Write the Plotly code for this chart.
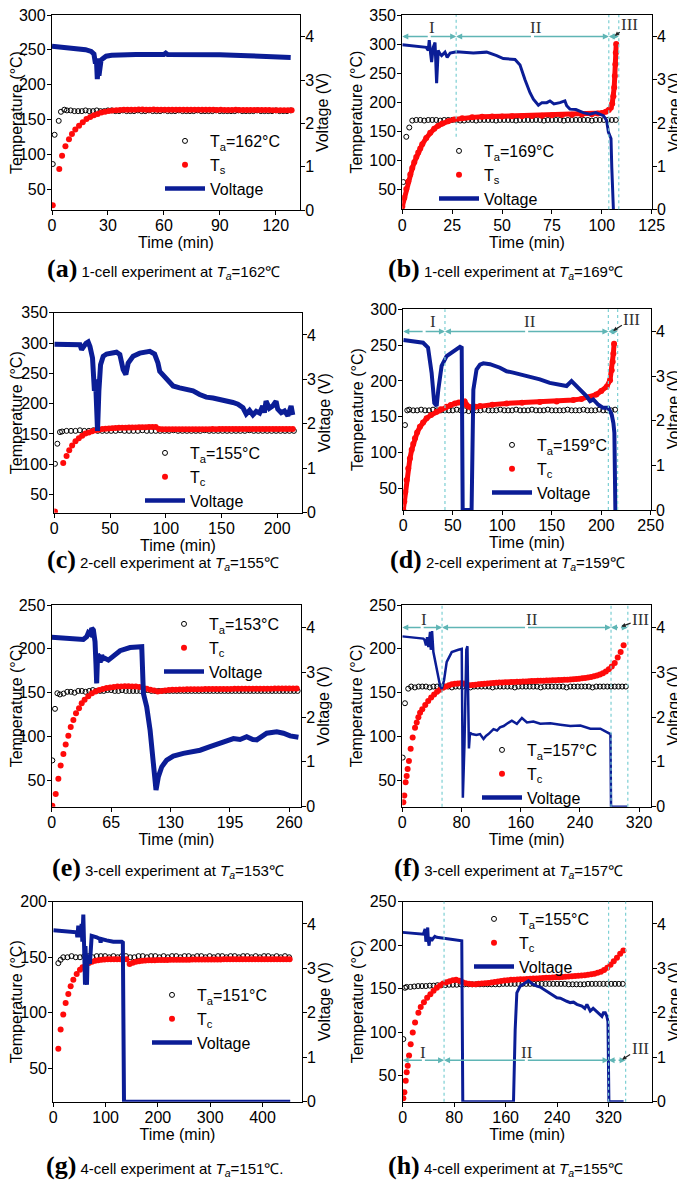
import plotly.graph_objects as go

# ======================= DATA =======================
# ---- (a) 1-cell, Ta=162 ----
ta_a_early = [(0.4, 86), (1.4, 128), (3.6, 148), (4.8, 161), (6.6, 164)]
ta_a_start, ta_a_step = 8, 2
ta_a = [163,163,162,162,162,163,162,162,163,162,
        162,163,163,162,162,163,162,162,162,163,
        162,162,163,162,162,162,163,162,162,162,
        163,162,162,162,162,163,162,162,162,162,
        163,162,162,162,162,162,163,162,162,162,
        162,163,162,162,162,162,163,162,162,162,
        163]
ts_a_early = [(0.4, 27), (3.9, 79), (5.4, 98), (7.2, 111.5), (9.1, 121.6), (10.7, 129)]
ts_a_start, ts_a_step = 12.5, 2
ts_a = [135.5,141,146,150.5,153.5,156,158,160,161,162,
        162.8,163.3,163.6,163.8,164,
        164,164,164.2,164.2,164,164,164.2,164,164,164,
        164,164,163.8,164,164,163.8,164,163.8,163.8,164,
        163.8,163.8,163.8,163.6,163.8,163.6,163.6,163.6,163.8,163.6,
        163.6,163.6,163.5,163.5,163.6,163.5,163.5,163.5,163.4,163.4,
        163.4,163.4,163.4,163.3]
volt_a = [(0,3.78),(10,3.75),(18,3.70),(21,3.66),(22.5,3.6),(23.3,3.38),(23.8,3.5),(24.3,3.02),
          (24.7,3.3),(25.2,3.1),(25.7,3.4),(26.3,3.46),(27.5,3.5),(29,3.55),(32,3.57),(36,3.58),
          (45,3.59),(60,3.59),(61,3.62),(62,3.59),(75,3.59),(90,3.58),(105,3.56),(120,3.54),(128,3.52)]

# ---- (b) 1-cell, Ta=169 ----
ta_b_early = [(0.5, 62), (2, 140), (3.5, 156)]
ta_b_start, ta_b_step = 5, 2
ta_b = [168,169,169,168,169,169,169,168,169,169,
        169,169,168,168,169,169,168,169,169,169,
        169,168,169,169,169,169,168,169,169,169,
        169,169,169,168,169,169,169,169,168,169,
        169,169,169,169,169,168,169,169,169,169,
        169,169]
ts_b = [(0,20),(1,35),(2,50),(3,63),(4,75),(5,86),(6,96),(7,105),(8,113),(9,120),(10,127),
        (12,138),(14,147),(16,154),(18,159),(20,163),(23,167),(26,170),(30,172),(35,173.5),
        (40,174.5),(45,175),(50,175),(55,175.5),(60,175.5),(65,176),(70,176.5),(75,177),
        (80,177.5),(85,178),(90,178.5),(95,179),(98,180),(100,181),(102,183),(103.5,186),
        (104.5,190),(105.2,197),(105.8,210),(106.2,225),(106.5,245),(106.8,265),(107,285),(107.2,300)]
volt_b = [(0,3.81),(12,3.75),(13,3.68),(13.5,3.92),(14.2,3.6),(14.7,3.41),(15.5,3.75),(16.4,3.86),
          (17.2,2.92),(18,3.68),(18.9,3.6),(19.7,3.56),(21.4,3.64),(22.5,3.52),(24,3.62),(25.6,3.64),
          (27.2,3.65),(35.6,3.62),(42.3,3.64),(47.3,3.56),(50.6,3.49),(56.5,3.47),(59,3.34),(61.5,3.0),
          (64,2.70),(65.7,2.55),(68.2,2.41),(70,2.47),(72.4,2.47),(74,2.51),(76,2.44),(79,2.47),
          (81.5,2.51),(82.4,2.4),(84,2.32),(87,2.31),(90.7,2.24),(94,2.2),(97,2.24),(100.8,2.17),
          (102.4,2.06),(103.3,1.79),(104.1,1.72),(104.6,1.64),(105,0.96),(105.8,0)]

# ---- (c) 2-cell, Ta=155 ----
ta_c_early = [(0.6, 100.7), (2.7, 133.8), (5.1, 153)]
ta_c_start, ta_c_step = 7, 4
ta_c = [154,155,155,155,156,155,155,156,155,155,
        155,155,155,156,155,155,155,155,156,155,
        155,155,155,155,155,156,155,155,155,155,
        155,155,156,155,155,155,155,155,155,155,
        155,155,156,155,155,155,155,155,155,155,
        155,155,155]
tc_c_early = [(0.6, 22), (8, 102), (11, 113.4), (13.4, 123)]
tc_c_start, tc_c_step = 16, 3
tc_c = [131,138,143,147,150.5,152.5,154.5,156,157,158,
        158.5,159,159.5,159.7,160,160.2,160.3,160.5,160.5,160.6,
        160.8,161,161,161.2,161.3,161.5,158,157.5,157.5,157.5,
        157.5,157.6,157.5,157.7,157.6,157.7,157.7,157.8,157.7,157.8,
        157.8,157.8,157.9,157.8,157.9,157.9,157.9,158,157.9,158,
        158,158,158,158,158.1,158,158.1,158.1,158.1,158.1,
        158.1,158.2,158.1,158.2,158.2,158.2,158.2]
volt_c = [(0,3.79),(23,3.78),(24.5,3.67),(26,3.74),(28.4,3.81),(30.4,3.84),(32,3.74),(34.3,3.48),
          (36,2.74),(37,3.0),(38.8,1.84),(40,2.74),(41.5,3.33),(43.9,3.52),(46.9,3.57),(55.8,3.61),
          (58.8,3.56),(61.8,3.22),(64.2,3.11),(66.3,3.37),(70.7,3.52),(76.7,3.59),(85.7,3.63),(90,3.57),
          (93,3.37),(94.6,3.18),(100.6,3.0),(106.6,2.85),(112.5,2.81),(118.5,2.77),(124.5,2.74),
          (130.4,2.66),(136.4,2.6),(142.4,2.58),(148.4,2.55),(154.3,2.53),(160.3,2.48),(164.8,2.44),
          (169.3,2.36),(172.2,2.22),(175.2,2.30),(178.2,2.2),(181.2,2.28),(184.2,2.24),(187,2.4),
          (188.5,2.25),(190,2.51),(193,2.35),(196,2.4),(199,2.51),(200.5,2.33),(203.6,2.25),
          (206.6,2.29),(209.6,2.18),(212.5,2.4),(214,2.2)]

# ---- (d) 2-cell, Ta=159 ----
ta_d_early = [(1.7, 138.5), (4, 159)]
ta_d_start, ta_d_step = 6, 4
ta_d = [160,159,159,160,159,159,160,159,159,159,
        159,159,160,159,159,158,159,159,159,160,
        159,159,159,160,159,159,159,160,159,159,
        159,160,159,159,159,160,159,159,159,159,
        160,159,159,159,160,159,159,159,160,159,
        159,159,160]
tc_d = [(0,20),(1,32),(2,45),(3.4,62),(5,78),(6.7,92),(8.5,104),(10,112),(11.8,120),(14,128),
        (16.8,136),(20,142),(23.6,148),(28,152.5),(33.7,157),(38,160.5),(43.8,164),(48,166.5),
        (52.2,168.7),(56,170),(60.6,171),(62,171.5),(64,166.4),(66,164),(69,163),(73,164),
        (77.5,165),(90,167),(104.4,168.7),(120,169.5),(138,170.5),(155,171.5),(171.8,173.5),
        (180,175),(188.7,177.5),(195,181),(200,186),(205.5,192),(208.9,201),(210.6,215),
        (211.6,227),(212.3,238.5),(213,252)]
volt_d = [(0,3.81),(20,3.75),(25,3.64),(28.6,3.08),(31.3,2.4),(33.7,2.33),(35.4,2.7),(38.7,3.23),
          (43.8,3.45),(50.5,3.56),(57.3,3.66),(59,3.64),(60,0),(69,0),(70.8,2.7),(74,3.15),
          (77.5,3.26),(80.9,3.29),(87.6,3.27),(97.7,3.19),(104.4,3.11),(111,3.08),(118,3.04),
          (124.7,3.0),(131.4,2.97),(138,2.93),(148,2.85),(158.4,2.81),(165,2.78),(170,2.89),
          (173.5,2.81),(178.6,2.7),(185.3,2.55),(188.7,2.44),(192,2.48),(197,2.36),(202,2.29),
          (207.2,2.29),(210.6,2.14),(212.3,1.95),(213.3,1.73),(214.3,0)]

# ---- (e) 3-cell, Ta=153 ----
ta_e_early = [(0.7, 72.8), (3.6, 131.6), (6.2, 149.4)]
ta_e_start, ta_e_step = 9, 4
ta_e = [148,149,151,151,150,152,152,151,152,153,
        152,152,152,153,153,152,152,153,152,152,
        152,152,152,152,153,152,152,152,152,152,
        152,152,152,152,152,152,152,152,152,152,
        152,152,152,152,152,152,152,152,152,152,
        152,152,152,152,152,152,152,152,152,152,
        152,152,152,152,152,152]
tc_e_early = [(0.7,21),(4.4,34.4),(7.3,52),(9.8,67),(12.8,80),(15.3,91),(18.2,100.8),(20.8,111),
              (23.7,119),(26.6,126.7),(29.9,132.3),(32.8,138)]
tc_e_start, tc_e_step = 36, 4
tc_e = [142,146,149.4,151.5,153,154.3,155.3,156,156.5,157,
        157.2,157.3,157.3,157.2,157,156.5,155.5,154.5,153.5,152.5,
        151.5,151.8,152.5,153,153.3,153.5,153.6,153.7,153.8,153.9,
        154,154,154,154.1,154.1,154.2,154.2,154.2,154.3,154.3,
        154.3,154.4,154.4,154.4,154.5,154.5,154.5,154.5,154.6,154.6,
        154.6,154.6,154.7,154.7,154.7,154.7,154.7,154.8,154.8]
volt_e = [(0,3.78),(34.6,3.73),(38.3,3.79),(40.1,3.88),(42,3.85),(43.8,3.98),(45.6,3.94),(47.4,3.68),
          (48.4,3.2),(49.2,2.75),(50.2,3.4),(51.8,3.35),(53,3.22),(54.7,3.38),(56.5,3.3),(58.4,3.31),
          (62,3.27),(67.5,3.36),(74.8,3.48),(85.7,3.55),(96.6,3.57),(98.5,3.57),(100.3,2.53),
          (103.9,2.23),(107.6,1.71),(111.2,0.89),(114.1,0.37),(116.7,0.67),(120.4,0.89),(125.8,1.04),
          (133,1.13),(144,1.19),(155,1.23),(162.3,1.26),(173.2,1.34),(184.2,1.41),(191.5,1.45),
          (198.8,1.52),(206,1.5),(213.3,1.56),(220,1.5),(224.3,1.49),(235.2,1.64),(246.2,1.67),
          (253.5,1.64),(260.8,1.58),(269.9,1.55)]

# ---- (f) 3-cell, Ta=157 ----
ta_f_early = [(0.5, 76), (3.6, 138), (8, 154.6)]
ta_f_start, ta_f_step = 12, 5
ta_f = [157,156,157,157,157,156,157,157,157,157,
        157,156,157,157,157,157,156,157,157,157,
        157,157,156,157,157,157,157,157,156,157,
        157,157,157,157,157,156,157,157,157,157,
        157,157,156,157,157,157,157,157,157,156,
        157,157,157,157,157,157,157,157,157]
tc_f_early = [(1.4,25),(2.7,32.7),(4.5,48),(5.9,55),(7.2,63),(9,72),(11.3,86),(14,99),(17.2,110),
              (19.5,116),(21.7,122),(24,127)]
tc_f_start, tc_f_step = 27, 4
tc_f = [131,136,140.5,144.5,148,151,153.5,155.5,157,158.5,
        159.5,160.2,160.6,160.8,160.5,158.5,158.5,158.8,159.2,159.6,
        160,160.3,160.6,160.9,161.1,161.3,161.5,161.7,161.9,162,
        162.2,162.3,162.5,162.6,162.8,162.9,163,163.2,163.3,163.5,
        163.6,163.7,163.8,164,164.1,164.2,164.4,164.5,164.7,164.9,
        165.1,165.4,165.7,166,166.4,166.9,167.4,168,168.7,169.5,
        170.8,172.3,174.2,176.6,180,184,190,196.5,204]
volt_f = [(0,3.80),(28.4,3.75),(30,3.72),(32,3.6),(33.5,3.78),(35.2,3.56),(37.5,3.9),(38.5,3.5),
          (39.5,3.6),(40.2,3.92),(42,3.45),(46.5,3.04),(51,2.70),(53.3,2.63),(56.4,2.82),(60,3.23),
          (66.8,3.45),(75.8,3.5),(80.3,3.52),(81.8,0.2),(84,1.4),(86.5,3.5),(88,3.58),(90,1.3),
          (91.5,1.65),(94,1.62),(100,1.6),(105,1.62),(109.7,1.51),(113,1.58),(116.4,1.62),
          (123.2,1.73),(128,1.7),(132,1.77),(137,1.8),(141.3,1.85),(148,1.92),(154.8,1.85),
          (161.6,1.98),(168.4,1.88),(177,1.9),(186.4,1.85),(200,1.86),(213.5,1.83),(227,1.8),
          (240.6,1.81),(254,1.74),(267.6,1.74),(276.7,1.66),(281.2,1.62),(282,0),(304,0)]

# ---- (g) 4-cell, Ta=151 ----
ta_g_early = [(9.6, 144.7), (14, 147.7)]
ta_g_start, ta_g_step = 19, 8
ta_g = [150,150,151,150,150,151,151,150,151,151,
        151,150,151,150,151,151,150,150,151,151,
        150,151,151,150,151,150,151,151,150,151,
        151,150,151,151,150,151,150,151,151,150,
        151,151,150,151,151,150,151,150,151,151,
        150,151,150,151,150]
tc_g_early = [(9.6,67.6),(14,85),(19,98.4),(23.6,108.9),(28.7,117),(33.2,123.8),(38.3,129.8),
              (44.7,134.9),(51,138.7)]
tc_g_start, tc_g_step = 56, 6
tc_g = [141,143,144.8,146,146.8,147.3,147.7,148,148.2,148.3,
        148.3,148.3,148.3,148.3,148.2,144,145,146,146.5,146.8,
        147,147.2,147.3,147.4,147.5,147.5,147.6,147.6,147.7,147.7,
        147.7,147.8,147.8,147.8,147.8,147.9,147.9,147.9,147.9,148,
        148,148,148,148,148,148.1,148.1,148.1,148.1,148.1,
        148.2,148.2,148.2,148.2,148.2,148.2,148.2,148.3,148.3,148.3,
        148.3,148.3,148.3,148.3,148.3,148.3,148.3]
volt_g = [(0,3.86),(44.7,3.81),(46,3.7),(47.8,3.96),(49.5,3.75),(51,3.9),(52.5,3.7),(54.2,4.0),
          (55.5,3.6),(56.5,3.9),(57.4,4.21),(58.5,3.7),(59.5,3.3),(60.6,2.63),(61.5,3.5),(62.5,2.8),
          (63.5,3.3),(64.4,2.63),(65.5,3.2),(67,3.31),(70,3.1),(73.4,3.73),(83,3.7),(89.3,3.66),
          (90.5,3.58),(91.7,3.66),(102,3.63),(114.8,3.6),(130.8,3.6),(133,3.58),(135.2,0),(453,0)]

# ---- (h) 4-cell, Ta=155 ----
ta_h_early = [(1, 92), (3.6, 151)]
ta_h_start, ta_h_step = 6, 6
ta_h = [152,152,152.5,153,153,153,153.5,153.5,154,154,
        154,154.5,154.5,154.5,155,155,155,155,155,155,
        155,155,155,155,155,155.5,155.5,155.5,155.5,155.5,
        155.5,155.5,155.5,155.5,155.5,155.5,155.5,155.5,155.5,155.5,
        155.5,155.5,155,155,155,155,155,155.5,155.5,155.5,
        155.5,155.5,155.5,155.5,155.5,155.5,155.5]
tc_h_early = [(1,24),(2.6,31),(4.7,44),(6.2,54),(7.8,61.4),(9.9,73),(12.4,86),(15.6,99.5),
              (19.2,111),(24.4,122.4)]
tc_h_start, tc_h_step = 28, 5
tc_h = [129,134.5,139.5,143.5,147.5,151,153.5,156,157.5,158.6,
        159.8,160.3,159.2,157.5,156.3,155.5,155,155.2,155.7,156,
        156.3,156.6,157,157.6,158.2,158.8,159.4,159.8,160.1,160.3,
        160.5,160.7,160.9,161.1,161.4,161.6,161.8,162,162.2,162.4,
        162.6,162.8,163,163.2,163.4,163.7,164,164.2,164.5,164.8,
        165.1,165.5,166,166.5,167.2,168.2,169.5,171.4,174,177.5,
        181.5,185.5,190,194]
volt_h = [(0,3.81),(32.2,3.77),(34,3.85),(34.8,3.89),(36,3.6),(37.5,3.85),(38.9,3.92),(40,3.6),
          (41,3.51),(42.5,3.7),(45,3.62),(47.5,3.68),(50,3.72),(52.9,3.7),(63.3,3.68),(78.8,3.65),
          (91.8,3.62),(93.4,0),(172.2,0),(174.8,1.62),(177.4,2.45),(182.6,2.6),(190.3,2.68),
          (195.5,2.72),(200.7,2.66),(208.5,2.6),(213.7,2.58),(218.9,2.53),(224,2.5),(229.2,2.45),
          (234.4,2.4),(239.6,2.34),(245,2.33),(250,2.29),(255,2.26),(260.4,2.23),(265.5,2.24),
          (270.7,2.19),(278.5,2.15),(283,2.1),(286.3,2.19),(291.5,2.04),(296,2.1),(300,2.05),
          (304.4,2.0),(309.6,1.92),(312,2.0),(314.8,2.0),(317.4,1.92),(319,1.8),(320.5,0),(343.3,0)]

# ---- stage boundaries (min) for b, d, f, h ----
stages_b = [0, 27, 103.5, 108.5]
stages_d = [0, 42.1, 207.2, 216.6]
stages_f = [0, 53.7, 282, 304.7]
stages_h = [0, 64.3, 320, 346.5]
stage_names = ["I", "II", "III"]

# ---- ticks ----
xticks = {'a': [0,30,60,90,120], 'b': [0,25,50,75,100,125], 'c': [0,50,100,150,200],
          'd': [0,50,100,150,200,250], 'e': [0,65,130,195,260], 'f': [0,80,160,240,320],
          'g': [0,100,200,300,400], 'h': [0,80,160,240,320]}
yticks_T = {'a': [50,100,150,200,250,300], 'b': [50,100,150,200,250,300,350],
            'c': [50,100,150,200,250,300,350], 'd': [50,100,150,200,250,300],
            'e': [50,100,150,200,250], 'f': [50,100,150,200,250],
            'g': [50,100,150,200], 'h': [50,100,150,200,250]}
yticks_V = [0, 1, 2, 3, 4]

ta_labels = {'a': 162, 'b': 169, 'c': 155, 'd': 159, 'e': 153, 'f': 157, 'g': 151, 'h': 155}
cell_labels = {'a': '1-cell', 'b': '1-cell', 'c': '2-cell', 'd': '2-cell',
               'e': '3-cell', 'f': '3-cell', 'g': '4-cell', 'h': '4-cell'}

# ======================= HELPERS =======================
def grid_series(early, start, step, vals):
    t = [p[0] for p in early] + [start + i * step for i in range(len(vals))]
    v = [p[1] for p in early] + list(vals)
    return t, v

def unzip(pairs):
    return [p[0] for p in pairs], [p[1] for p in pairs]

DATA = {
    'a': dict(ta=grid_series(ta_a_early, ta_a_start, ta_a_step, ta_a),
              tc=grid_series(ts_a_early, ts_a_start, ts_a_step, ts_a), tc_line=False, volt=unzip(volt_a)),
    'b': dict(ta=grid_series(ta_b_early, ta_b_start, ta_b_step, ta_b),
              tc=unzip(ts_b), tc_line=True, volt=unzip(volt_b)),
    'c': dict(ta=grid_series(ta_c_early, ta_c_start, ta_c_step, ta_c),
              tc=grid_series(tc_c_early, tc_c_start, tc_c_step, tc_c), tc_line=False, volt=unzip(volt_c)),
    'd': dict(ta=grid_series(ta_d_early, ta_d_start, ta_d_step, ta_d),
              tc=unzip(tc_d), tc_line=True, volt=unzip(volt_d)),
    'e': dict(ta=grid_series(ta_e_early, ta_e_start, ta_e_step, ta_e),
              tc=grid_series(tc_e_early, tc_e_start, tc_e_step, tc_e), tc_line=False, volt=unzip(volt_e)),
    'f': dict(ta=grid_series(ta_f_early, ta_f_start, ta_f_step, ta_f),
              tc=grid_series(tc_f_early, tc_f_start, tc_f_step, tc_f), tc_line=False, volt=unzip(volt_f)),
    'g': dict(ta=grid_series(ta_g_early, ta_g_start, ta_g_step, ta_g),
              tc=grid_series(tc_g_early, tc_g_start, tc_g_step, tc_g), tc_line=False, volt=unzip(volt_g)),
    'h': dict(ta=grid_series(ta_h_early, ta_h_start, ta_h_step, ta_h),
              tc=grid_series(tc_h_early, tc_h_start, tc_h_step, tc_h), tc_line=False, volt=unzip(volt_h)),
}

# ======================= LAYOUT SPEC (page pixels) =======================
PAGE_W, PAGE_H = 685, 1181
OFF = 8                      # default body margin of the html page
W, H = PAGE_W - OFF, PAGE_H - OFF
SANS = "Liberation Sans, Arial, sans-serif"
SERIF = "Liberation Serif, Times New Roman, serif"
BLUE = "#0b1d96"
RED = "#ff0a0a"
TEAL = "#5fb5b5"
DASH = "#7ccfd3"

def clamp01(v):
    return max(0.0, min(1.0, v))

def px(x):
    return clamp01((x - OFF) / W)

def py(y):
    return clamp01(1 - (y - OFF) / H)

# box = (left, top, right, bottom) page px ; legend = (x, y) top-left ; caption centre (x, y)
SPEC = {
    'a': dict(box=(52, 15, 300, 210), xr=[0, 133], yr=[20, 300], leg=(160, 124), cap=(163, 269), vw=5),
    'b': dict(box=(402.3, 15, 651.7, 209.3), xr=[0, 125], yr=[15, 350], leg=(434, 134), cap=(505, 269), vw=3),
    'c': dict(box=(54.3, 312.7, 301.7, 512.7), xr=[0, 222], yr=[20, 350], leg=(140, 436), cap=(163, 559), vw=5),
    'd': dict(box=(403.3, 309.3, 650.7, 510), xr=[0, 250], yr=[20, 300], leg=(487, 428), cap=(507, 559), vw=4),
    'e': dict(box=(51.7, 605, 301, 806.7), xr=[0, 272.7], yr=[20, 250], leg=(159, 607), cap=(168, 867), vw=5),
    'f': dict(box=(402.3, 605, 651, 806.7), xr=[0, 336], yr=[20, 250], leg=(477, 733), cap=(508, 867), vw=2.5),
    'g': dict(box=(53.3, 901.7, 301.7, 1101.7), xr=[0, 475], yr=[20, 200], leg=(147, 978), cap=(165, 1165), vw=4),
    'h': dict(box=(402.7, 901.7, 651.7, 1101.7), xr=[0, 387], yr=[20, 250], leg=(469, 902), cap=(505, 1165), vw=3),
}
LEGEND_LINE_W = 4.5
STAGES = {
    'b': dict(bounds=stages_b, lvl=4.0, lab_lvl=4.2, lab_t=[14.7, 67], iii=(114, 4.27, 106.5, 4.02), first_from=140),
    'd': dict(bounds=stages_d, lvl=4.0, lab_lvl=4.22, lab_t=[30.3, 128], iii=(231, 4.28, 212, 4.02), first_from=None),
    'f': dict(bounds=stages_f, lvl=4.0, lab_lvl=4.17, lab_t=[29, 175], iii=(322, 4.18, 296, 4.02), first_from=None),
    'h': dict(bounds=stages_h, lvl=0.93, lab_lvl=1.1, lab_t=[32, 193], iii=(369, 1.2, 341, 0.95), first_from=None),
}

fig = go.Figure()
layout = dict(width=W, height=H, margin=dict(l=0, r=0, t=0, b=0, autoexpand=False),
              paper_bgcolor="white", plot_bgcolor="white", showlegend=True,
              font=dict(family=SANS, size=16, color="black"))
annotations, shapes = [], []
tickfont = dict(family=SANS, size=16, color="black")
titlefont = dict(family=SANS, size=16, color="black")

for i, key in enumerate("abcdefgh", start=1):
    sp = SPEC[key]
    d = DATA[key]
    L, T, R, B = sp['box']
    xd = [px(L), px(R)]
    yd = [py(B), py(T)]
    xn = "x" if i == 1 else f"x{i}"
    yn = "y" if i == 1 else f"y{i}"
    yv = f"y{i + 8}"
    xa = "xaxis" if i == 1 else f"xaxis{i}"
    ya = "yaxis" if i == 1 else f"yaxis{i}"
    yva = f"yaxis{i + 8}"
    lg = "legend" if i == 1 else f"legend{i}"

    common = dict(showline=True, linecolor="black", linewidth=1.3, ticks="outside", ticklen=4,
                  tickwidth=1.2, tickcolor="black", showgrid=False, zeroline=False,
                  tickfont=tickfont, automargin=False, ticklabeloverflow="allow")
    layout[xa] = dict(domain=xd, range=sp['xr'], anchor=yn, tickvals=xticks[key], mirror=True,
                      ticklabelstandoff=-3,
                      title=dict(text="Time (min)", font=titlefont, standoff=1), **common)
    layout[ya] = dict(domain=yd, range=sp['yr'], anchor=xn, tickvals=yticks_T[key],
                      ticklabelstandoff=-2,
                      title=dict(text="Temperature (°C)", font=titlefont, standoff=2), **common)
    layout[yva] = dict(range=[0, 4.5], anchor=xn, overlaying=yn, side="right", tickvals=yticks_V,
                       ticklabelstandoff=-3,
                       title=dict(text="Voltage (V)", font=titlefont, standoff=0), **common)
    lx, ly = sp['leg']
    layout[lg] = dict(x=px(lx), y=py(ly), xanchor="left", yanchor="top",
                      bgcolor="rgba(0,0,0,0)", font=dict(family=SANS, size=16, color="black"),
                      itemwidth=40, tracegroupgap=0)

    sub = "s" if key in ("a", "b") else "c"
    # ambient temperature
    fig.add_trace(go.Scatter(x=d['ta'][0], y=d['ta'][1], xaxis=xn, yaxis=yn, mode="markers",
                             name=f"T<sub>a</sub>={ta_labels[key]}°C", legend=lg,
                             marker=dict(symbol="circle-open", size=5, color="black", line=dict(width=1))))
    # cell temperature
    if d['tc_line']:
        fig.add_trace(go.Scatter(x=d['tc'][0], y=d['tc'][1], xaxis=xn, yaxis=yn, mode="lines+markers",
                                 showlegend=False, legend=lg, line=dict(color=RED, width=5),
                                 marker=dict(size=6, color=RED)))
        fig.add_trace(go.Scatter(x=[None], y=[None], xaxis=xn, yaxis=yn, mode="markers",
                                 name=f"T<sub>{sub}</sub>", legend=lg, marker=dict(size=6, color=RED)))
    else:
        fig.add_trace(go.Scatter(x=d['tc'][0], y=d['tc'][1], xaxis=xn, yaxis=yn, mode="markers",
                                 name=f"T<sub>{sub}</sub>", legend=lg, marker=dict(size=6, color=RED)))
    # voltage (plotted line + legend entry with the reference's thick sample line)
    fig.add_trace(go.Scatter(x=d['volt'][0], y=d['volt'][1], xaxis=xn, yaxis=yv, mode="lines",
                             name="Voltage", legend=lg, showlegend=False,
                             line=dict(color=BLUE, width=sp['vw'])))
    fig.add_trace(go.Scatter(x=[None], y=[None], xaxis=xn, yaxis=yv, mode="lines",
                             name="Voltage", legend=lg, line=dict(color=BLUE, width=LEGEND_LINE_W)))

    # caption
    cx, cy = sp['cap']
    extra = "." if key == "g" else ""
    annotations.append(dict(
        xref="paper", yref="paper", x=px(cx), y=py(cy), showarrow=False,
        xanchor="center", yanchor="middle",
        font=dict(family=SANS, size=15, color="black"),
        text=(f'<span style="font-family:Liberation Serif;font-size:26px"><b>({key})</b></span> '
              f'{cell_labels[key]} experiment at <i>T<sub>a</sub></i>={ta_labels[key]}℃{extra}')))

    # stage markers
    if key in STAGES:
        st = STAGES[key]
        bnd = st['bounds']
        for j, b in enumerate(bnd[1:]):
            if j == 0 and st['first_from'] is not None:
                shapes.append(dict(type="line", xref=xn, yref=yn, x0=b, x1=b,
                                   y0=st['first_from'], y1=sp['yr'][1],
                                   line=dict(color=DASH, width=1.2, dash="dot")))
            else:
                shapes.append(dict(type="line", xref=xn, yref=f"{yn} domain", x0=b, x1=b, y0=0, y1=1,
                                   line=dict(color=DASH, width=1.2, dash="dot")))
        for j in range(3):
            a0, a1 = bnd[j], bnd[j + 1]
            mid = (a0 + a1) / 2
            for end in (a0, a1):
                annotations.append(dict(xref=xn, yref=yv, x=end, y=st['lvl'], axref=xn, ayref=yv,
                                        ax=mid, ay=st['lvl'], text="", showarrow=True, arrowhead=2,
                                        arrowsize=0.8, arrowwidth=1.5, arrowcolor=TEAL, standoff=0))
        for j in range(2):
            annotations.append(dict(xref=xn, yref=yv, x=st['lab_t'][j], y=st['lab_lvl'],
                                    text=stage_names[j], showarrow=False,
                                    font=dict(family=SERIF, size=17, color="#333333")))
        lx3, ly3, hx3, hy3 = st['iii']
        annotations.append(dict(xref=xn, yref=yv, x=hx3, y=hy3, axref=xn, ayref=yv, ax=lx3, ay=ly3,
                                text=stage_names[2], showarrow=True, arrowhead=2, arrowsize=0.7,
                                arrowwidth=1.2, arrowcolor="#222222", standoff=0,
                                font=dict(family=SERIF, size=17, color="#333333")))

layout['annotations'] = annotations
layout['shapes'] = shapes
fig.update_layout(**layout)
fig.write_html("out.html")
